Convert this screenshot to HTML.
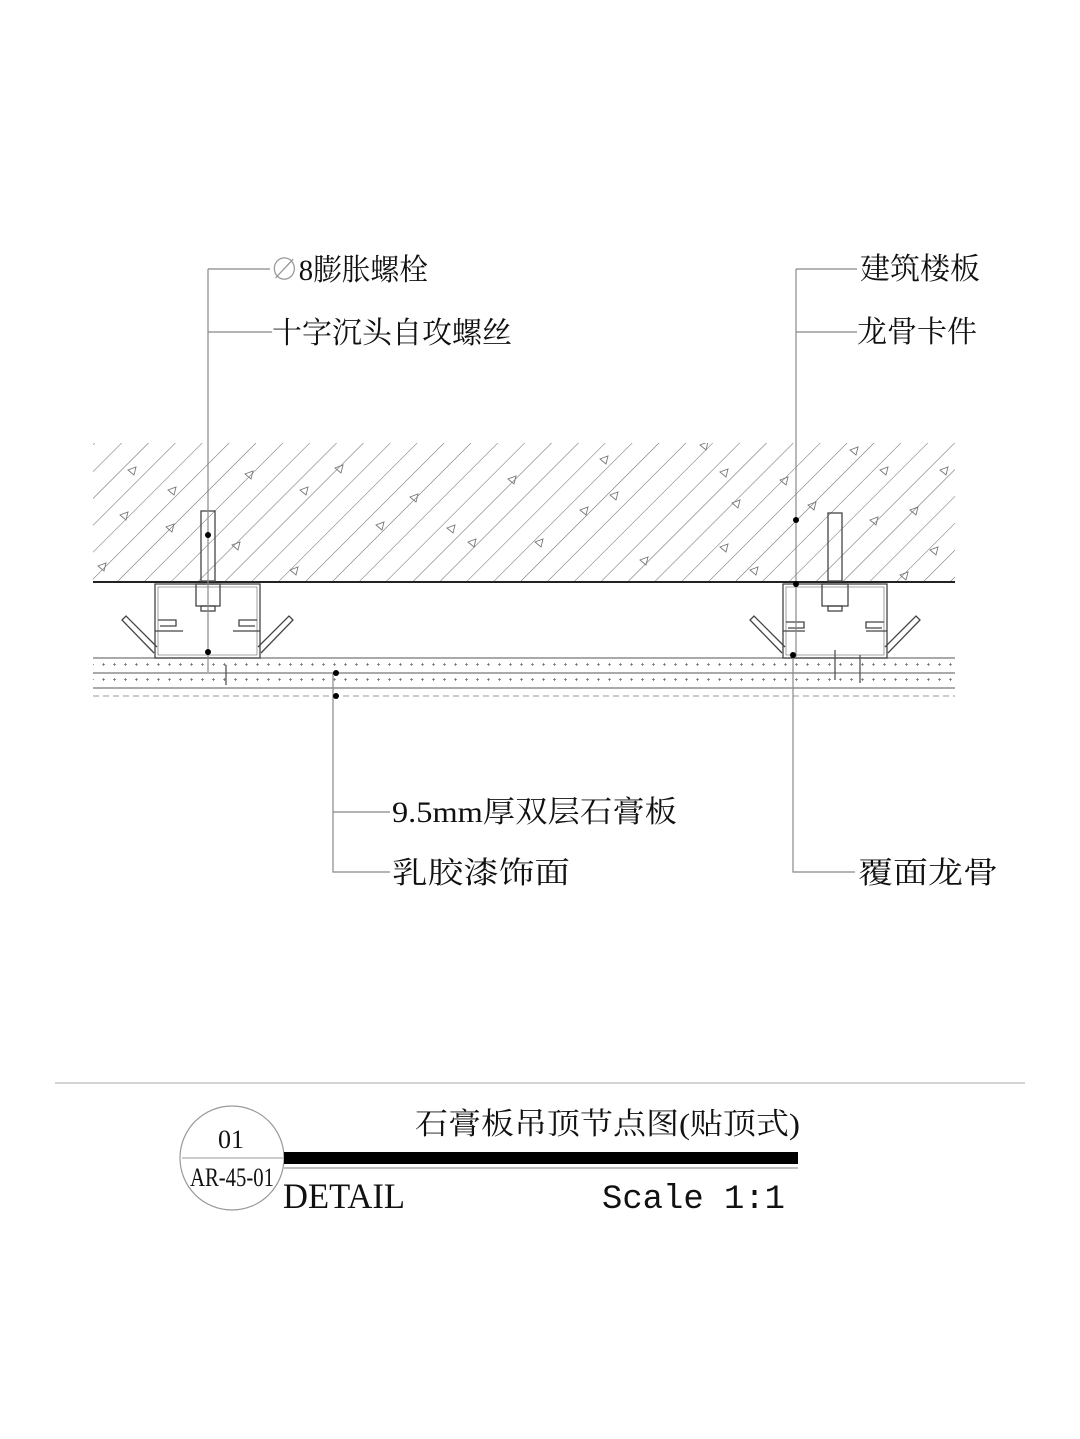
<!DOCTYPE html>
<html><head><meta charset="utf-8"><style>
html,body{margin:0;padding:0;background:#fff;width:1080px;height:1439px;overflow:hidden}
svg{display:block}
.t{font-family:"Liberation Serif","Noto Serif CJK SC","Noto Sans CJK SC",serif;fill:#111}
</style></head><body>
<svg width="1080" height="1439" viewBox="0 0 1080 1439" xmlns="http://www.w3.org/2000/svg">
<defs>
<clipPath id="slab"><rect x="93" y="443" width="862" height="139"/></clipPath>
<pattern id="hatch" patternUnits="userSpaceOnUse" width="19" height="19" patternTransform="rotate(45)">
<line x1="0" y1="0" x2="0" y2="19" stroke="#666" stroke-width="1"/>
</pattern>
<pattern id="dots" patternUnits="userSpaceOnUse" width="11" height="15" x="97" y="658">
<path d="M5 6.5h3M6.5 5v3" stroke="#777" stroke-width="0.8"/>
</pattern>
<g id="tri"><path d="M0 0 L8 -3 L6 5 Z" fill="none" stroke="#777" stroke-width="0.9"/></g>
</defs>

<!-- slab -->
<rect x="93" y="443" width="862" height="139" fill="url(#hatch)"/>
<g clip-path="url(#slab)">
<use href="#tri" x="128" y="470"/><use href="#tri" x="168" y="490"/><use href="#tri" x="120" y="515"/><use href="#tri" x="166" y="527"/>
<use href="#tri" x="245" y="474"/><use href="#tri" x="232" y="545"/><use href="#tri" x="98" y="566"/><use href="#tri" x="300" y="490"/>
<use href="#tri" x="335" y="468"/><use href="#tri" x="376" y="525"/><use href="#tri" x="410" y="497"/><use href="#tri" x="447" y="528"/>
<use href="#tri" x="290" y="570"/><use href="#tri" x="508" y="479"/><use href="#tri" x="535" y="542"/><use href="#tri" x="468" y="542"/>
<use href="#tri" x="600" y="459"/><use href="#tri" x="610" y="495"/><use href="#tri" x="580" y="510"/><use href="#tri" x="640" y="560"/>
<use href="#tri" x="700" y="445"/><use href="#tri" x="720" y="472"/><use href="#tri" x="732" y="503"/><use href="#tri" x="780" y="480"/>
<use href="#tri" x="808" y="505"/><use href="#tri" x="720" y="547"/><use href="#tri" x="880" y="470"/><use href="#tri" x="870" y="520"/>
<use href="#tri" x="910" y="510"/><use href="#tri" x="940" y="470"/><use href="#tri" x="930" y="550"/><use href="#tri" x="850" y="450"/>
<use href="#tri" x="750" y="570"/><use href="#tri" x="900" y="575"/>
</g>
<line x1="93" y1="582" x2="955" y2="582" stroke="#222" stroke-width="2"/>

<!-- board -->
<rect x="93" y="658" width="862" height="30" fill="url(#dots)"/>
<line x1="93" y1="658" x2="955" y2="658" stroke="#777" stroke-width="1.2"/>
<line x1="93" y1="673" x2="955" y2="673" stroke="#777" stroke-width="1.2"/>
<line x1="93" y1="688" x2="955" y2="688" stroke="#777" stroke-width="1.2"/>
<line x1="93" y1="696" x2="955" y2="696" stroke="#999" stroke-width="1" stroke-dasharray="6 4"/>

<!-- channel left -->
<g fill="none" stroke="#444" stroke-width="1.3">
<path d="M155 584 H260 V658 H155 Z"/>
<path d="M158 587 H257 V655 H158 Z" stroke="#888" stroke-width="0.8"/>
<path d="M154 653 L122 620 L126 616 L157 647"/>
<path d="M261 653 L293 620 L289 616 L258 647"/>
<path d="M158 620 H176 V626 H160"/><path d="M257 620 H239 V626 H255"/>
<path d="M155 631 H183"/><path d="M260 631 H233"/>
<rect x="201" y="511" width="14" height="70"/>
<rect x="196" y="584" width="24" height="22"/>
<rect x="201" y="606" width="14" height="5"/>
</g>
<!-- channel right -->
<g fill="none" stroke="#444" stroke-width="1.3">
<path d="M783 584 H887 V658 H783 Z"/>
<path d="M786 587 H884 V655 H786 Z" stroke="#888" stroke-width="0.8"/>
<path d="M782 653 L750 620 L754 616 L785 647"/>
<path d="M888 653 L920 620 L916 616 L885 647"/>
<path d="M786 622 H804 V628 H788"/><path d="M884 622 H866 V628 H882"/>
<path d="M783 631 H805"/><path d="M887 631 H866"/>
<rect x="828" y="513" width="14" height="68"/>
<rect x="822" y="584" width="26" height="22"/>
<rect x="828" y="606" width="14" height="5"/>
<path d="M835 650 v30 M860 655 v28" stroke="#555"/>
<path d="M226 665 v20" stroke="#555"/>
</g>

<!-- leaders -->
<g stroke="#888" stroke-width="1.2" fill="none">
<path d="M208 269 V672"/><path d="M208 269 H270"/><path d="M208 332 H272"/>
<path d="M796 269 V658"/><path d="M796 269 H857"/><path d="M796 332 H857"/>
<path d="M333 673 V872 H390"/><path d="M333 812 H390"/>
<path d="M793 655 V872 H855"/>
</g>
<g fill="#000">
<circle cx="208" cy="535" r="3"/><circle cx="208" cy="652" r="3"/>
<circle cx="796" cy="520" r="3"/><circle cx="796" cy="584" r="3"/><circle cx="793" cy="655" r="3"/>
<circle cx="336" cy="673" r="3"/><circle cx="336" cy="696" r="3"/>
</g>

<!-- labels -->
<g class="t" font-size="30">
<text x="270" y="280" textLength="158" lengthAdjust="spacingAndGlyphs"><tspan fill="#999">∅</tspan>8膨胀螺栓</text>
<text x="272" y="343" textLength="240" lengthAdjust="spacingAndGlyphs">十字沉头自攻螺丝</text>
<text x="860" y="279" textLength="120" lengthAdjust="spacingAndGlyphs">建筑楼板</text>
<text x="857" y="342" textLength="120" lengthAdjust="spacingAndGlyphs">龙骨卡件</text>
<text x="392" y="822" textLength="285" lengthAdjust="spacingAndGlyphs">9.5mm厚双层石膏板</text>
<text x="392" y="883" textLength="178" lengthAdjust="spacingAndGlyphs">乳胶漆饰面</text>
<text x="858" y="883" textLength="140" lengthAdjust="spacingAndGlyphs">覆面龙骨</text>
</g>

<!-- title block -->
<line x1="55" y1="1083" x2="1025" y2="1083" stroke="#bbb" stroke-width="1.2"/>
<circle cx="232" cy="1158" r="52" fill="none" stroke="#999" stroke-width="1.2"/>
<line x1="182" y1="1158" x2="283" y2="1158" stroke="#999" stroke-width="1"/>
<rect x="284" y="1152" width="514" height="12" fill="#000"/>
<line x1="284" y1="1168" x2="798" y2="1168" stroke="#aaa" stroke-width="1.5"/>
<g class="t">
<text x="218" y="1148" font-size="26" textLength="26" lengthAdjust="spacingAndGlyphs">01</text>
<text x="190" y="1186" font-size="26" textLength="84" lengthAdjust="spacingAndGlyphs">AR-45-01</text>
<text x="415" y="1134" font-size="30" textLength="385" lengthAdjust="spacingAndGlyphs">石膏板吊顶节点图(贴顶式)</text>
<text x="283" y="1208" font-size="36" textLength="122" lengthAdjust="spacingAndGlyphs">DETAIL</text>
<text x="602" y="1208" font-size="34" font-family="Liberation Mono, monospace" textLength="183" lengthAdjust="spacingAndGlyphs">Scale 1:1</text>
</g>
</svg>
</body></html>
